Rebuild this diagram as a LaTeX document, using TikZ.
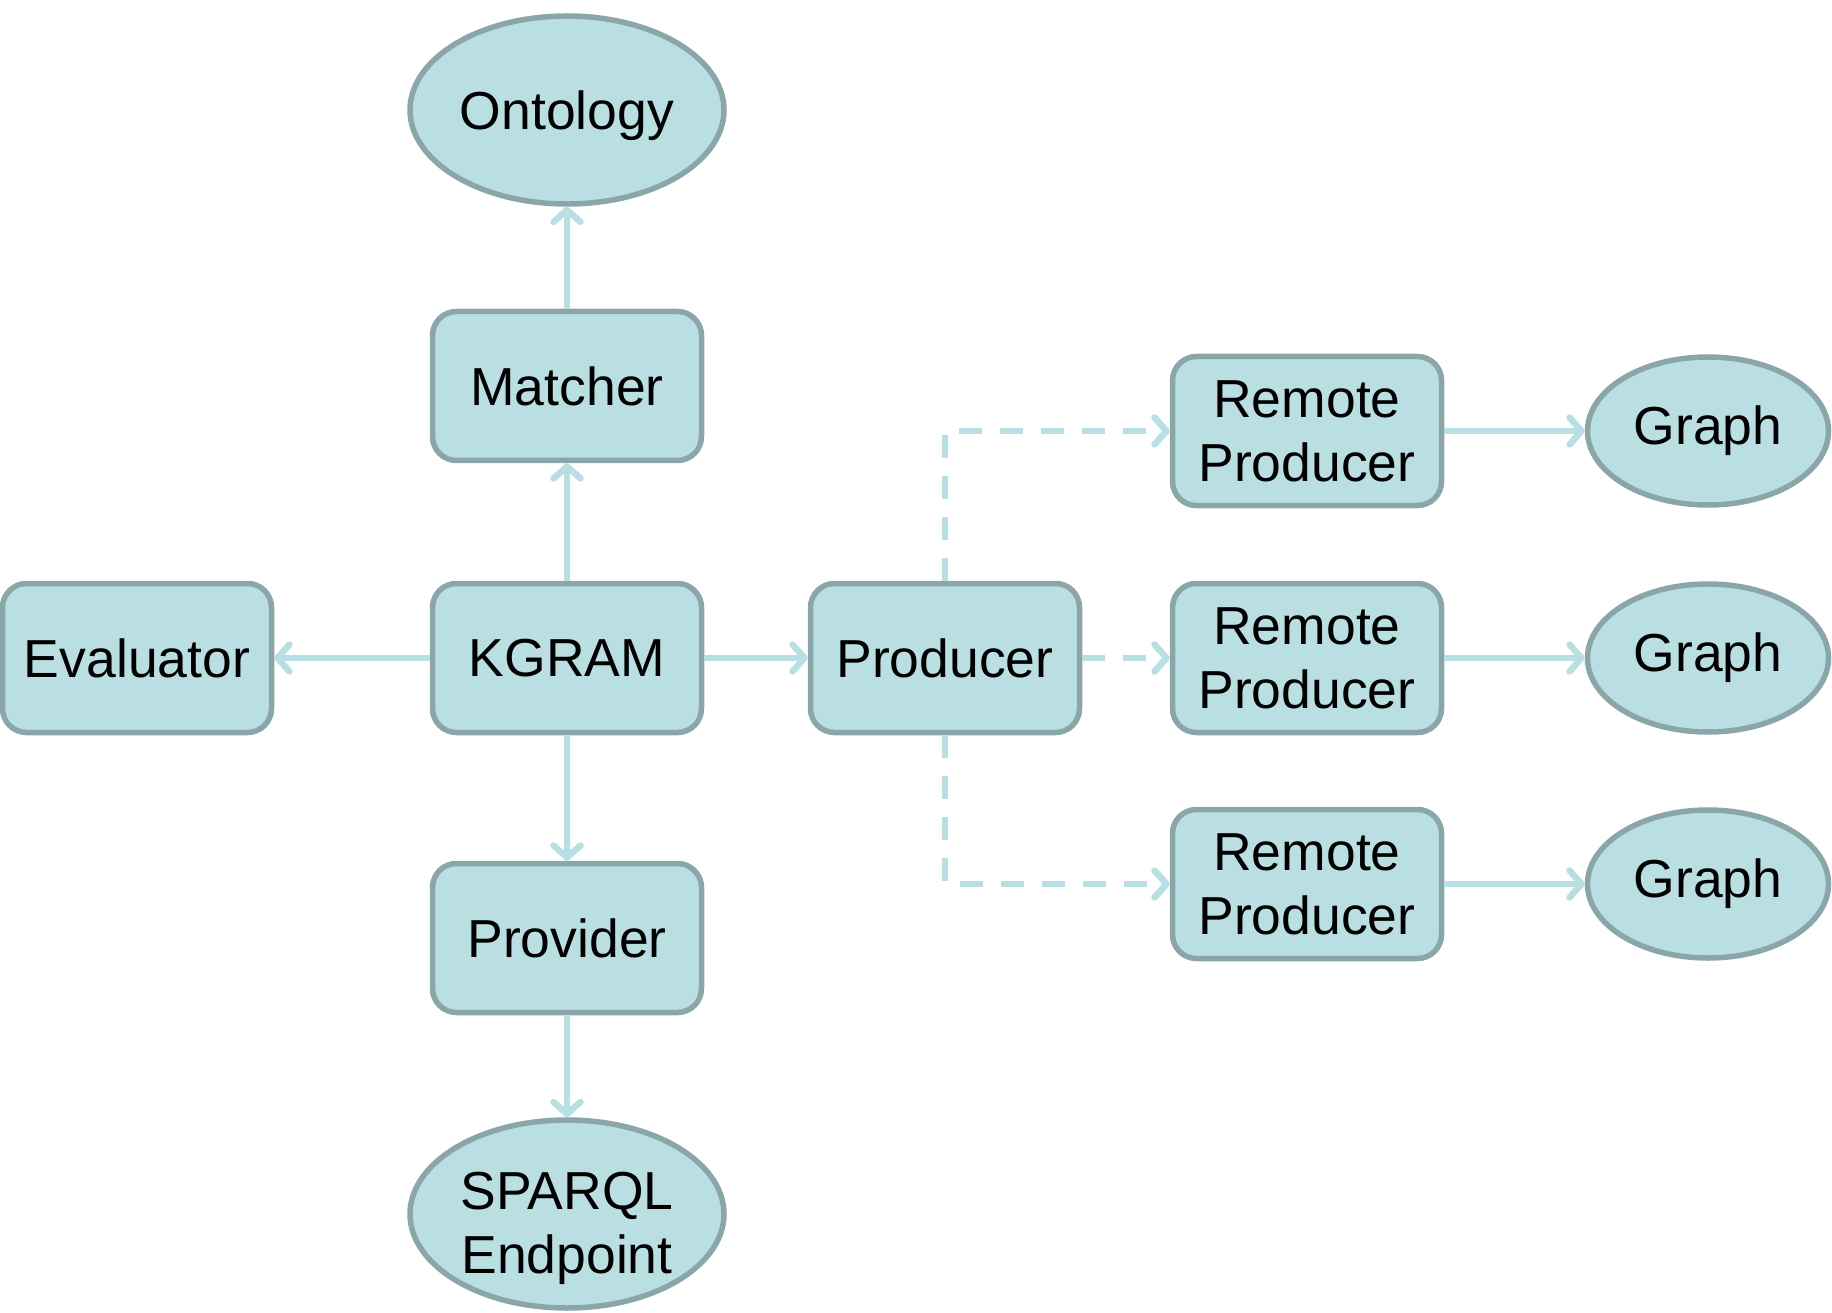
\documentclass[tikz,border=0pt]{standalone}
\usepackage{fontspec}
\setmainfont{Liberation Sans}
\usetikzlibrary{arrows.meta,shapes.geometric}
\definecolor{boxfill}{RGB}{186,223,227}
\definecolor{boxline}{RGB}{139,166,168}
\definecolor{arrowc}{RGB}{184,223,227}
\begin{document}
\begin{tikzpicture}[x=1pt,y=-1pt,
  lbl/.style={font=\fontsize{53.5}{64}\selectfont, align=center, text=black},
  rbox/.style={lbl, draw=boxline, fill=boxfill, line width=5.5pt, rounded corners=24pt,
    minimum width=269pt, minimum height=149pt, inner sep=0pt},
  ell/.style={lbl, ellipse, draw=boxline, fill=boxfill, line width=5.5pt, inner sep=0pt},
  bigell/.style={ell, minimum width=314pt, minimum height=188pt},
  smallell/.style={ell, minimum width=241pt, minimum height=148pt},
  conn/.style={draw=arrowc, line width=6.5pt, -{Straight Barb[length=12pt,width=27pt,line cap=round,line join=round]}},
  dconn/.style={conn, dash pattern=on 23pt off 18pt}
]
\useasboundingbox (0,0) rectangle (1832,1313);
\node[bigell] (onto) at (567,110) {};
\node[lbl] (ontotext) at (567,116) {Ontology};
\node[rbox] (match) at (567,386) {Matcher};
\node[rbox] (kgram) at (567,658) {KGRAM};
\node[rbox] (eval) at (137,658) {Evaluator};
\node[rbox] (prov) at (567,938) {Provider};
\node[bigell] (sparql) at (567,1214) {};
\node[lbl] (sparqltext) at (567,1228) {SPARQL\\Endpoint};
\node[rbox] (prod) at (945,658) {Producer};
\node[rbox] (rp1) at (1307,431) {Remote\\Producer};
\node[rbox] (rp2) at (1307,658) {Remote\\Producer};
\node[rbox] (rp3) at (1307,884) {Remote\\Producer};
\node[smallell] (g1) at (1708,431) {Graph};
\node[smallell] (g2) at (1708,658) {Graph};
\node[smallell] (g3) at (1708,884) {Graph};

\draw[conn] (match) -- (onto);
\draw[conn] (kgram) -- (match);
\draw[conn] (kgram) -- (eval);
\draw[conn] (kgram) -- (prov);
\draw[conn] (prov) -- (sparql);
\draw[conn] (kgram) -- (prod);
\draw[dconn] (prod.north) |- (rp1.west);
\draw[dconn] (prod) -- (rp2);
\draw[dconn] (prod.south) |- (rp3.west);
\draw[conn] (rp1) -- (g1);
\draw[conn] (rp2) -- (g2);
\draw[conn] (rp3) -- (g3);
\end{tikzpicture}
\end{document}
